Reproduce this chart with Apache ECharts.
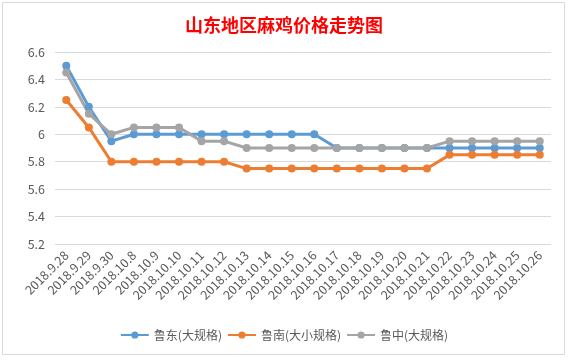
<!DOCTYPE html>
<html><head><meta charset="utf-8">
<script src="https://cdn.jsdelivr.net/npm/echarts@6/dist/echarts.min.js"></script>
<style>html,body{margin:0;padding:0;background:#fff;}#c{width:568px;height:360px;}</style>
</head><body><div id="c"></div>
<script>
var categories = ["2018.9.28","2018.9.29","2018.9.30","2018.10.8","2018.10.9","2018.10.10","2018.10.11","2018.10.12","2018.10.13","2018.10.14","2018.10.15","2018.10.16","2018.10.17","2018.10.18","2018.10.19","2018.10.20","2018.10.21","2018.10.22","2018.10.23","2018.10.24","2018.10.25","2018.10.26"];
var seriesNames = ["鲁东(大规格)","鲁南(大小规格)","鲁中(大规格)"];
var ludong = [6.5,6.2,5.95,6.0,6.0,6.0,6.0,6.0,6.0,6.0,6.0,6.0,5.9,5.9,5.9,5.9,5.9,5.9,5.9,5.9,5.9,5.9];
var lunan = [6.25,6.05,5.8,5.8,5.8,5.8,5.8,5.8,5.75,5.75,5.75,5.75,5.75,5.75,5.75,5.75,5.75,5.85,5.85,5.85,5.85,5.85];
var luzhong = [6.45,6.15,6.0,6.05,6.05,6.05,5.95,5.95,5.9,5.9,5.9,5.9,5.9,5.9,5.9,5.9,5.9,5.95,5.95,5.95,5.95,5.95];
var colors = ["#5B9BD5","#ED7D31","#A5A5A5"];
var font = '"Microsoft YaHei","Noto Sans CJK SC","DejaVu Sans",sans-serif';
var chart = echarts.init(document.getElementById('c'), null, {renderer:'canvas'});
function mk(name, data, color){
  return {name:name, type:'line', data:data, symbol:'circle', symbolSize:8,
    lineStyle:{width:3,color:color}, itemStyle:{color:color}, animation:false};
}
chart.setOption({
  animation:false,
  color: colors,
  title:{text:'山东地区麻鸡价格走势图', left:'center', top:11,
    textStyle:{color:'#FF0000', fontSize:18, fontWeight:'bold', fontFamily:font}},
  graphic:[{type:'rect', shape:{x:2.5,y:2.5,width:562,height:352}, style:{fill:'none',stroke:'#D9D9D9',lineWidth:1}, silent:true}],
  grid:{left:55, right:17, top:52, bottom:116, containLabel:false},
  legend:{bottom:14, left:'center', itemWidth:28, itemHeight:9, itemGap:5,
    textStyle:{color:'#595959', fontSize:12, fontFamily:font},
    data:seriesNames},
  xAxis:{type:'category', data:categories, boundaryGap:true,
    axisLine:{show:false}, axisTick:{show:false},
    axisLabel:{rotate:45, interval:0, color:'#595959', fontSize:12.5, fontFamily:font, margin:9}},
  yAxis:{type:'value', min:5.2, max:6.6, interval:0.2,
    axisLine:{show:false}, axisTick:{show:false},
    splitLine:{lineStyle:{color:'#D9D9D9', width:1}},
    axisLabel:{color:'#595959', fontSize:12.5, fontFamily:font, margin:10,
      formatter:function(v){return String(parseFloat(v.toFixed(1)));}}},
  series:[mk(seriesNames[0], ludong, colors[0]), mk(seriesNames[1], lunan, colors[1]), mk(seriesNames[2], luzhong, colors[2])]
});
</script></body></html>
